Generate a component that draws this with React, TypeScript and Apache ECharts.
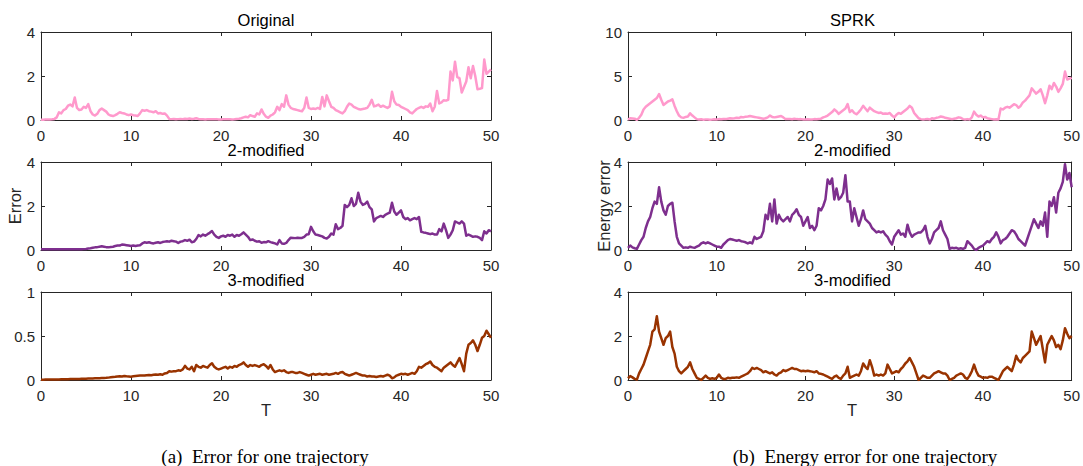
import React, { useEffect, useRef } from "react";
import * as echarts from "echarts";

// time grid: T from 0 to 50 in steps of 0.25
const T: number[] = Array.from({ length: 201 }, (_, i) => i * 0.25);

// (a) Error for one trajectory
const origError = [
  0.01, 0.01, 0.02, 0.02, 0.02, 0.03, 0.05, 0.12, 0.35, 0.3, 0.45, 0.5, 0.65, 0.7, 0.62, 1.02,
  0.55, 0.45, 0.48, 0.6, 0.55, 0.72, 0.4, 0.25, 0.2, 0.28, 0.45, 0.52, 0.45, 0.38, 0.25, 0.2,
  0.18, 0.22, 0.28, 0.35, 0.32, 0.3, 0.25, 0.22, 0.25, 0.22, 0.2, 0.18, 0.3, 0.45, 0.42, 0.45,
  0.4, 0.38, 0.35, 0.4, 0.3, 0.32, 0.28, 0.3, 0.2, 0.05, 0.04, 0.05, 0.03, 0.04, 0.05, 0.04,
  0.06, 0.05, 0.07, 0.05, 0.06, 0.08, 0.05, 0.03, 0.03, 0.02, 0.03, 0.04, 0.03, 0.03, 0.04, 0.02,
  0.02, 0.03, 0.03, 0.04, 0.03, 0.02, 0.03, 0.05, 0.06, 0.08, 0.12, 0.15, 0.12, 0.22, 0.18, 0.15,
  0.3, 0.25, 0.48, 0.28, 0.15, 0.1, 0.2, 0.25, 0.35, 0.6, 0.45, 0.72, 0.6, 1.12, 0.7, 0.55,
  0.5, 0.48, 0.45, 0.42, 0.4, 0.55, 1.02, 0.55, 0.5, 0.52, 0.5, 0.55, 0.5, 1.05, 0.62, 1.12,
  0.85, 0.6, 0.55, 0.45, 0.4, 0.35, 0.3, 0.4, 0.6, 0.75, 0.7, 0.6, 0.55, 0.5, 0.48, 0.5,
  0.52, 0.55, 0.7, 0.92, 0.62, 0.65, 0.7, 0.6, 0.65, 0.6, 0.55, 0.62, 1.28, 0.85, 0.7, 0.68,
  0.6, 0.55, 0.5, 0.45, 0.35, 0.3, 0.4, 0.5, 0.55, 0.6, 0.55, 0.62, 0.6, 0.75, 0.4, 0.6,
  1.32, 0.75, 0.8, 0.9, 0.88, 0.92, 2.2, 1.8, 2.65, 1.95, 1.9, 1.25, 1.5, 1.75, 2.4, 1.9,
  2.45, 2.0, 1.4, 1.42, 1.45, 2.75, 2.1, 2.2, 2.3,
];

const mod2Error = [
  0.03, 0.03, 0.03, 0.03, 0.03, 0.03, 0.03, 0.03, 0.03, 0.03, 0.03, 0.03, 0.03, 0.03, 0.03, 0.03,
  0.03, 0.03, 0.03, 0.04, 0.05, 0.07, 0.08, 0.1, 0.12, 0.13, 0.15, 0.17, 0.15, 0.13, 0.12, 0.14,
  0.15, 0.18, 0.2, 0.2, 0.25, 0.24, 0.22, 0.2, 0.18, 0.2, 0.18, 0.2, 0.22, 0.3, 0.35, 0.33,
  0.35, 0.32, 0.3, 0.33, 0.35, 0.32, 0.36, 0.38, 0.4, 0.38, 0.42, 0.4, 0.38, 0.32, 0.38, 0.4,
  0.45, 0.42, 0.47, 0.35, 0.38, 0.5, 0.68, 0.62, 0.7, 0.65, 0.72, 0.78, 0.86, 0.7, 0.6, 0.55,
  0.62, 0.65, 0.6, 0.68, 0.65, 0.7, 0.6, 0.68, 0.65, 0.72, 0.8, 0.7, 0.6, 0.45, 0.48, 0.42,
  0.38, 0.4, 0.33, 0.36, 0.35, 0.4, 0.36, 0.33, 0.3, 0.25, 0.45, 0.3, 0.28, 0.32, 0.45, 0.56,
  0.55, 0.54, 0.56, 0.55, 0.55, 0.6, 0.7, 0.72, 1.05, 0.85, 0.7, 0.68, 0.65, 0.62, 0.55, 0.52,
  0.6, 0.75, 0.7, 1.17, 0.95, 1.0, 1.1, 2.05, 1.95, 2.05, 2.35, 2.0, 2.1, 2.6, 2.2, 2.05,
  2.1, 2.2, 1.95, 1.85, 1.3, 1.45, 1.5, 1.55, 1.5, 1.6, 1.65, 1.7, 2.15, 1.75, 1.6, 1.7,
  1.8, 1.5, 1.4, 1.45, 1.35, 1.4, 1.45, 1.4, 1.5, 0.83, 0.8, 0.78, 0.75, 0.72, 0.75, 0.7,
  0.7, 0.95, 0.85, 1.2, 0.9, 0.55, 0.7, 0.9, 1.3, 1.25, 1.2, 1.3, 1.2, 0.65, 0.7, 0.65,
  0.6, 0.62, 0.6, 0.55, 0.45, 0.85, 0.75, 0.9, 0.85,
];

const mod3Error = [
  0.003, 0.004, 0.005, 0.005, 0.005, 0.006, 0.006, 0.007, 0.007, 0.008, 0.008, 0.009, 0.009, 0.01, 0.01, 0.011,
  0.012, 0.012, 0.013, 0.014, 0.015, 0.016, 0.017, 0.018, 0.019, 0.02, 0.02, 0.022, 0.024, 0.025, 0.027, 0.03,
  0.033, 0.036, 0.04, 0.042, 0.04, 0.045, 0.042, 0.04, 0.038, 0.042, 0.045, 0.048, 0.05, 0.052, 0.05, 0.055,
  0.058, 0.055, 0.06, 0.062, 0.06, 0.065, 0.06, 0.075, 0.08, 0.1, 0.095, 0.1, 0.1, 0.11, 0.105, 0.12,
  0.16, 0.13, 0.12, 0.15, 0.1, 0.17, 0.15, 0.14, 0.16, 0.15, 0.14, 0.17, 0.19, 0.15, 0.13, 0.12,
  0.13, 0.14, 0.15, 0.13, 0.15, 0.14, 0.16, 0.15, 0.17, 0.18, 0.2, 0.17, 0.15, 0.17, 0.16, 0.17,
  0.16, 0.15, 0.17, 0.18, 0.16, 0.13, 0.17, 0.12, 0.09, 0.1, 0.11, 0.1, 0.11, 0.09, 0.08, 0.09,
  0.09, 0.08, 0.08, 0.09, 0.08, 0.07, 0.06, 0.05, 0.06, 0.07, 0.06, 0.065, 0.07, 0.06, 0.065, 0.07,
  0.06, 0.065, 0.07, 0.08, 0.07, 0.085, 0.09, 0.07, 0.06, 0.05, 0.06, 0.07, 0.08, 0.07, 0.06, 0.05,
  0.05, 0.04, 0.045, 0.04, 0.04, 0.035, 0.04, 0.045, 0.04, 0.05, 0.06, 0.05, 0.02, 0.03, 0.05, 0.06,
  0.07, 0.065, 0.07, 0.06, 0.07, 0.08, 0.07, 0.1, 0.15, 0.14, 0.16, 0.18, 0.19, 0.21, 0.17, 0.15,
  0.14, 0.12, 0.1, 0.14, 0.16, 0.18, 0.2, 0.17, 0.15, 0.2, 0.25, 0.18, 0.1, 0.3, 0.4, 0.42,
  0.45, 0.4, 0.33, 0.4, 0.48, 0.5, 0.56, 0.52, 0.48,
];

// (b) Energy error for one trajectory
const sprkEnergy = [
  0.05, 0.2, 0.18, 0.15, 0.02, 0.25, 0.6, 1.2, 1.5, 1.7, 1.9, 2.1, 2.3, 2.5, 2.95, 2.3,
  1.7, 1.9, 2.1, 2.2, 2.35, 1.6, 1.0, 0.5, 0.3, 0.25, 0.35, 0.4, 0.76, 0.5, 0.3, 0.1,
  0.05, 0.08, 0.03, 0.05, 0.06, 0.04, 0.05, 0.08, 0.05, 0.1, 0.08, 0.12, 0.1, 0.15, 0.2, 0.18,
  0.2, 0.25, 0.22, 0.35, 0.3, 0.38, 0.4, 0.45, 0.4, 0.35, 0.3, 0.25, 0.2, 0.15, 0.2, 0.3,
  0.5, 0.35, 0.3, 0.35, 0.4, 0.45, 0.3, 0.1, 0.1, 0.12, 0.08, 0.15, 0.1, 0.08, 0.1, 0.06,
  0.05, 0.08, 0.05, 0.07, 0.1, 0.08, 0.12, 0.15, 0.3, 0.38, 0.5, 0.7, 0.9, 1.2, 1.0, 0.7,
  0.9, 1.1, 1.3, 1.8, 0.9, 1.1, 0.8, 0.65, 0.9, 1.2, 1.6, 1.3, 1.0, 1.4, 1.2, 1.0,
  0.9, 0.8, 0.85, 0.7, 0.75, 0.7, 0.8, 0.5, 0.3, 0.6, 0.8, 0.7, 0.9, 1.1, 1.3, 1.6,
  1.4, 0.8, 0.5, 0.2, 0.1, 0.05, 0.08, 0.12, 0.05, 0.2, 0.15, 0.25, 0.3, 0.4, 0.35, 0.25,
  0.2, 0.15, 0.1, 0.15, 0.2, 0.3, 0.25, 0.1, 0.05, 0.1, 0.05, 0.3, 0.95, 0.6, 0.4, 0.5,
  0.3, 0.35, 0.2, 0.15, 0.1, 0.05, 0.08, 0.05, 1.3, 1.2, 1.4, 1.5, 1.4, 1.6, 1.8, 1.7,
  1.4, 1.6, 2.0, 2.2, 2.5, 2.8, 3.6, 3.3, 3.0, 3.2, 3.5, 2.8, 1.9, 2.8, 3.9, 3.5,
  4.2, 3.8, 3.2, 3.6, 4.1, 5.5, 4.6, 4.7, 4.8,
];

const mod2Energy = [
  0.1, 0.2, 0.12, 0.08, 0.05, 0.25, 0.45, 0.6, 1.0, 1.3, 1.5, 1.9, 2.2, 2.1, 2.85, 2.2,
  1.8, 1.6, 2.0, 2.1, 2.15, 1.3, 0.6, 0.3, 0.2, 0.1, 0.12, 0.1, 0.15, 0.12, 0.1, 0.15,
  0.2, 0.3, 0.35, 0.3, 0.35, 0.3, 0.25, 0.2, 0.15, 0.15, 0.1, 0.25, 0.35, 0.45, 0.5, 0.48,
  0.45, 0.42, 0.45, 0.4, 0.38, 0.35, 0.3, 0.35, 0.3, 0.6, 0.5, 0.55, 0.6, 0.85, 1.6, 1.4,
  2.1, 1.3, 2.3, 1.2, 1.6, 1.4, 1.3, 1.4, 1.5, 1.3, 1.6, 1.7, 1.85, 1.6, 1.5, 1.1,
  1.3, 1.5, 1.0, 1.1, 0.9, 1.1, 1.9, 1.8, 2.0, 2.3, 3.2, 3.0, 3.25, 2.3, 2.8, 2.3,
  2.4, 2.6, 3.4, 2.2, 2.2, 1.3, 1.9, 1.5, 1.1, 1.4, 1.8, 1.4, 1.3, 1.2, 1.0, 0.9,
  0.8, 0.85, 0.8, 0.85, 0.7, 0.6, 0.4, 0.25, 0.6, 0.75, 0.9, 0.7, 0.75, 0.6, 1.15, 0.8,
  0.6, 0.7, 0.75, 0.8, 0.8, 0.9, 1.1, 0.6, 0.3, 0.5, 0.8, 0.9, 1.0, 1.3, 0.9, 0.7,
  0.5, 0.05, 0.1, 0.08, 0.1, 0.05, 0.08, 0.05, 0.1, 0.4, 0.3, 0.2, 0.05, 0.0, 0.1, 0.15,
  0.2, 0.3, 0.4, 0.35, 0.5, 0.6, 0.8, 0.6, 0.3, 0.45, 0.5, 0.6, 0.75, 0.9, 0.85, 0.7,
  0.5, 0.4, 0.3, 0.2, 0.5, 0.8, 1.1, 1.4, 1.2, 1.0, 1.3, 1.1, 1.7, 0.6, 2.2, 2.0,
  2.4, 1.7, 2.6, 2.8, 3.1, 3.9, 3.2, 3.5, 2.85,
];

const mod3Energy = [
  0.08, 0.18, 0.12, 0.05, 0.02, 0.3, 0.5, 0.7, 1.0, 1.3, 1.6, 2.2, 2.3, 2.9, 2.2, 1.9,
  1.6, 1.9, 2.0, 2.2, 1.5, 1.2, 0.6, 0.4, 0.3, 0.4, 0.5, 0.6, 0.8, 0.5, 0.3, 0.1,
  0.05, 0.0, 0.1, 0.2, 0.1, 0.05, 0.08, 0.05, 0.1, 0.25, 0.1, 0.05, 0.05, 0.1, 0.08, 0.1,
  0.1, 0.12, 0.1, 0.15, 0.2, 0.25, 0.3, 0.4, 0.55, 0.5, 0.55, 0.5, 0.45, 0.35, 0.4, 0.35,
  0.3, 0.35, 0.25, 0.2, 0.3, 0.35, 0.45, 0.4, 0.45, 0.5, 0.55, 0.5, 0.5, 0.45, 0.4, 0.42,
  0.4, 0.42, 0.4, 0.38, 0.35, 0.4, 0.3, 0.28, 0.25, 0.2, 0.15, 0.1, 0.05, 0.15, 0.2, 0.1,
  0.05, 0.2, 0.3, 0.6, 0.1, 0.15, 0.2, 0.25, 0.2, 0.4, 0.75, 0.6, 0.5, 0.9, 0.6, 0.2,
  0.25, 0.2, 0.25, 0.2, 0.3, 0.7, 0.5, 0.3, 0.35, 0.4, 0.35, 0.5, 0.6, 0.75, 0.85, 1.0,
  0.8, 0.6, 0.3, 0.0, 0.1, 0.2, 0.15, 0.1, 0.1, 0.2, 0.3, 0.35, 0.4, 0.35, 0.3, 0.3,
  0.2, 0.0, 0.05, 0.1, 0.2, 0.25, 0.3, 0.25, 0.1, 0.05, 0.2, 0.4, 0.7, 0.4, 0.2, 0.15,
  0.1, 0.12, 0.1, 0.15, 0.15, 0.1, 0.05, 0.0, 0.2, 0.4, 0.5, 0.6, 0.5, 0.4, 0.7, 1.1,
  0.9, 0.8, 1.0, 1.1, 1.2, 1.3, 2.2, 1.9, 1.6, 1.8, 2.0, 1.4, 0.8, 1.6, 1.8, 2.0,
  1.8, 1.5, 1.6, 1.4, 1.8, 2.35, 2.1, 1.9, 2.0,
];

const panelTitles = ["Original", "SPRK", "2-modified", "2-modified", "3-modified", "3-modified"];
const panelData = [origError, sprkEnergy, mod2Error, mod2Energy, mod3Error, mod3Energy];
const panelYMax = [4, 10, 4, 4, 1, 4];
const panelYStep = [2, 5, 2, 2, 0.5, 2];
const pink = "#ff99cc";
const purple = "#7e2f8e";
const brown = "#993300";
const panelColors = [pink, pink, purple, purple, brown, brown];

const AX = "#262626";
const SANS = "'Liberation Sans', Arial, Helvetica, sans-serif";
const SERIF = "'Liberation Serif', 'Times New Roman', serif";

export default function App() {
  const ref = useRef<HTMLDivElement>(null);

  useEffect(() => {
    if (!ref.current) return;
    const chart = echarts.init(ref.current, undefined, { renderer: "svg" });

    const colLeft = [41, 628];
    const colWidth = [450, 449];
    const rowTop = [32, 162, 292];
    const H = 88;

    const grid: any[] = [];
    const xAxis: any[] = [];
    const yAxis: any[] = [];
    const series: any[] = [];
    const graphic: any[] = [];

    const lineStyle = { color: AX, width: 1 };

    for (let p = 0; p < 6; p++) {
      const row = Math.floor(p / 2);
      const col = p % 2;
      grid.push({ left: colLeft[col], top: rowTop[row], width: colWidth[col], height: H, containLabel: false });
      xAxis.push({
        type: "value", gridIndex: p, position: "bottom", min: 0, max: 50, interval: 10,
        axisLine: { show: true, onZero: false, lineStyle },
        axisTick: { show: true, inside: true, length: 4, lineStyle },
        axisLabel: { show: true, color: AX, fontSize: 15, fontFamily: SANS, margin: 8 },
        splitLine: { show: false },
      });
      xAxis.push({
        type: "value", gridIndex: p, position: "top", min: 0, max: 50, interval: 10,
        axisLine: { show: true, onZero: false, lineStyle },
        axisTick: { show: true, inside: true, length: 4, lineStyle },
        axisLabel: { show: false },
        splitLine: { show: false },
      });
      yAxis.push({
        type: "value", gridIndex: p, position: "left", min: 0, max: panelYMax[p], interval: panelYStep[p],
        axisLine: { show: true, onZero: false, lineStyle },
        axisTick: { show: true, inside: true, length: 4, lineStyle },
        axisLabel: { show: true, color: AX, fontSize: 15, fontFamily: SANS, margin: 6 },
        splitLine: { show: false },
      });
      yAxis.push({
        type: "value", gridIndex: p, position: "right", min: 0, max: panelYMax[p], interval: panelYStep[p],
        axisLine: { show: true, onZero: false, lineStyle },
        axisTick: { show: true, inside: true, length: 4, lineStyle },
        axisLabel: { show: false },
        splitLine: { show: false },
      });
      const vals = panelData[p];
      series.push({
        type: "line",
        xAxisIndex: p * 2,
        yAxisIndex: p * 2,
        data: T.map((t, i) => [t, vals[i]]),
        showSymbol: false,
        symbol: "none",
        clip: true,
        silent: true,
        lineStyle: { color: panelColors[p], width: 2.5, join: "round" },
        itemStyle: { color: panelColors[p] },
        z: 1,
      });
      graphic.push({
        type: "text",
        x: colLeft[col] + colWidth[col] / 2,
        y: rowTop[row] - 12,
        style: {
          text: panelTitles[p],
          font: `16.5px ${SANS}`,
          fill: "#000",
          textAlign: "center",
          textVerticalAlign: "middle",
        },
      });
    }

    graphic.push({
      type: "text", x: 266, y: 410,
      style: { text: "T", font: `16.5px ${SANS}`, fill: AX, textAlign: "center", textVerticalAlign: "middle" },
    });
    graphic.push({
      type: "text", x: 852, y: 410,
      style: { text: "T", font: `16.5px ${SANS}`, fill: AX, textAlign: "center", textVerticalAlign: "middle" },
    });
    graphic.push({
      type: "text", x: 15, y: 206, rotation: Math.PI / 2,
      style: { text: "Error", font: `16.5px ${SANS}`, fill: AX, textAlign: "center", textVerticalAlign: "middle" },
    });
    graphic.push({
      type: "text", x: 604, y: 206, rotation: Math.PI / 2,
      style: { text: "Energy error", font: `16.5px ${SANS}`, fill: AX, textAlign: "center", textVerticalAlign: "middle" },
    });
    graphic.push({
      type: "text", x: 265, y: 456,
      style: { text: "(a)\u00a0\u00a0Error for one trajectory", font: `19px ${SERIF}`, fill: "#000", textAlign: "center", textVerticalAlign: "middle" },
    });
    graphic.push({
      type: "text", x: 865, y: 456,
      style: { text: "(b)\u00a0\u00a0Energy error for one trajectory", font: `19px ${SERIF}`, fill: "#000", textAlign: "center", textVerticalAlign: "middle" },
    });

    chart.setOption({
      animation: false,
      backgroundColor: "#ffffff",
      grid,
      xAxis,
      yAxis,
      series,
      graphic,
    });

    return () => {
      chart.dispose();
    };
  }, []);

  return (
    <div
      ref={ref}
      style={{ position: "fixed", left: 0, top: 0, width: 1083, height: 466, background: "#fff" }}
    />
  );
}
